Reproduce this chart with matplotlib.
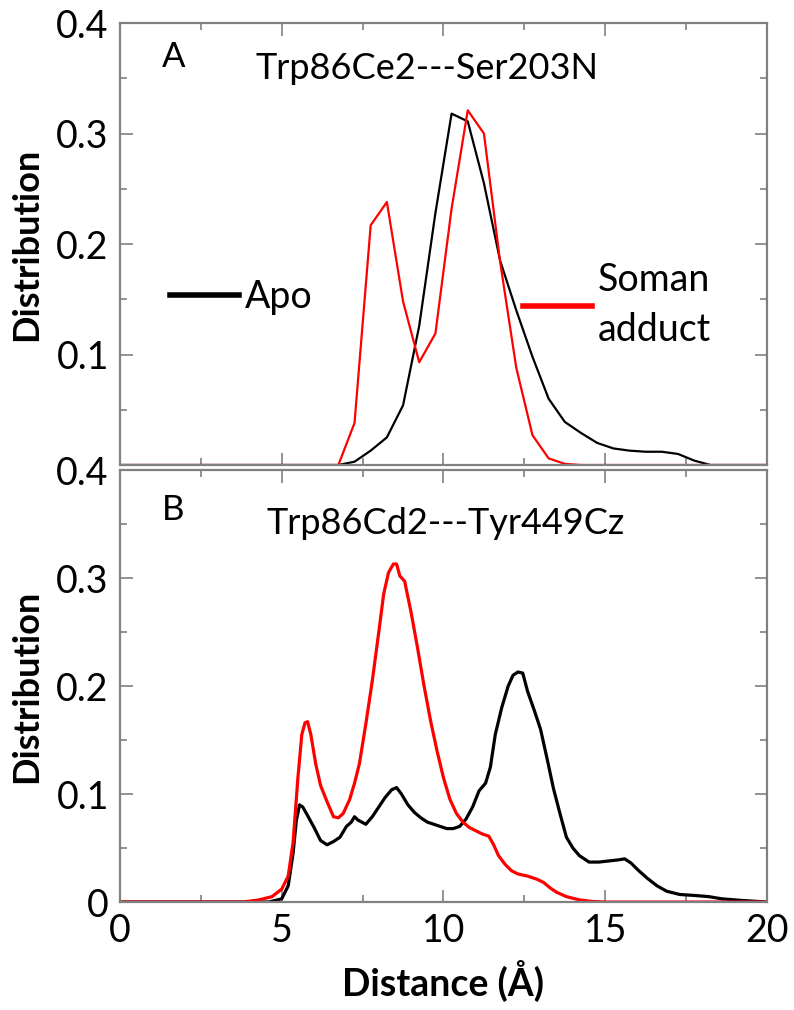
import matplotlib
matplotlib.use("Agg")
import matplotlib.pyplot as plt
from matplotlib.lines import Line2D
from matplotlib.ticker import MultipleLocator

plt.rcParams['font.family'] = ['Lato', 'DejaVu Sans']

# Panel A: Trp86Ce2---Ser203N distance histogram (0.5 A bins)
dist_a = [0, 6.75, 7.25, 7.75, 8.25, 8.75, 9.25, 9.75, 10.25, 10.75, 11.25,
          11.75, 12.25, 12.75, 13.25, 13.75, 14.25, 14.75, 15.25, 15.75,
          16.25, 16.75, 17.25, 17.75, 18.25, 20]
apo_a = [0, 0, 0.003, 0.013, 0.025, 0.054, 0.126, 0.228, 0.318, 0.311, 0.255,
         0.185, 0.140, 0.098, 0.060, 0.039, 0.029, 0.020, 0.015, 0.013,
         0.012, 0.012, 0.010, 0.004, 0, 0]
soman_a = [0, 0, 0.038, 0.217, 0.238, 0.148, 0.093, 0.119, 0.232, 0.321, 0.300,
           0.184, 0.088, 0.027, 0.006, 0.001, 0, 0, 0, 0,
           0, 0, 0, 0, 0, 0]

# Panel B: Trp86Cd2---Tyr449Cz distance distribution
dist_b_apo = [0, 4.6, 5.0, 5.2, 5.35, 5.45, 5.55, 5.65, 5.8, 6.0, 6.2, 6.4,
              6.6, 6.8, 7.0, 7.15, 7.25, 7.35, 7.6, 7.8, 8.0, 8.2, 8.4, 8.55,
              8.7, 8.9, 9.1, 9.3, 9.5, 9.8, 10.1, 10.3, 10.5, 10.7, 10.9,
              11.1, 11.3, 11.45, 11.6, 11.8, 12.0, 12.15, 12.3, 12.45, 12.6,
              12.8, 13.0, 13.2, 13.4, 13.6, 13.8, 14.0, 14.2, 14.5, 14.8,
              15.1, 15.4, 15.6, 15.8, 16.0, 16.3, 16.6, 16.9, 17.3, 17.8,
              18.2, 18.6, 19.2, 20]
apo_b = [0, 0, 0.003, 0.015, 0.045, 0.075, 0.090, 0.088, 0.080, 0.069, 0.057,
         0.053, 0.056, 0.060, 0.070, 0.074, 0.079, 0.076, 0.072, 0.079, 0.088,
         0.097, 0.104, 0.106, 0.100, 0.090, 0.083, 0.078, 0.074, 0.071,
         0.068, 0.068, 0.070, 0.077, 0.088, 0.103, 0.110, 0.125, 0.155,
         0.180, 0.200, 0.210, 0.213, 0.212, 0.195, 0.178, 0.160, 0.133,
         0.105, 0.082, 0.060, 0.050, 0.043, 0.037, 0.037, 0.038, 0.039,
         0.040, 0.036, 0.030, 0.022, 0.015, 0.010, 0.007, 0.006, 0.005,
         0.003, 0.0015, 0]

dist_b_soman = [0, 3.8, 4.3, 4.7, 5.0, 5.2, 5.35, 5.5, 5.62, 5.72, 5.8, 5.9,
                6.05, 6.2, 6.4, 6.6, 6.75, 6.9, 7.1, 7.25, 7.4, 7.6, 7.8, 8.0,
                8.15, 8.3, 8.45, 8.55, 8.65, 8.8, 9.0, 9.2, 9.4, 9.6, 9.8,
                10.0, 10.2, 10.4, 10.6, 10.8, 11.0, 11.2, 11.4, 11.55, 11.7,
                11.9, 12.1, 12.3, 12.6, 12.9, 13.1, 13.3, 13.5, 13.8, 14.2,
                14.6, 15.0, 20]
soman_b = [0, 0, 0.002, 0.005, 0.012, 0.024, 0.055, 0.115, 0.155, 0.166,
           0.167, 0.155, 0.128, 0.108, 0.093, 0.079, 0.078, 0.082, 0.095,
           0.110, 0.128, 0.165, 0.205, 0.250, 0.285, 0.305, 0.313, 0.313,
           0.302, 0.297, 0.268, 0.235, 0.200, 0.168, 0.140, 0.115, 0.095,
           0.082, 0.074, 0.069, 0.066, 0.063, 0.061, 0.053, 0.043, 0.035,
           0.029, 0.026, 0.024, 0.021, 0.018, 0.013, 0.009, 0.005, 0.002,
           0.0005, 0, 0]

y_ticks = [0, 0.1, 0.2, 0.3, 0.4]
y_labels_a = ['', '0.1', '0.2', '0.3', '0.4']
y_labels_b = ['0', '0.1', '0.2', '0.3', '0.4']
x_ticks = [0, 5, 10, 15, 20]

SPINE = '#808080'


def style_axis(ax, ylabels):
    ax.set_xlim(0, 20)
    ax.set_ylim(0, 0.4)
    ax.set_xticks(x_ticks)
    ax.set_yticks(y_ticks)
    ax.set_yticklabels(ylabels)
    ax.xaxis.set_minor_locator(MultipleLocator(2.5))
    ax.yaxis.set_minor_locator(MultipleLocator(0.05))
    ax.tick_params(which='both', direction='in', top=True, right=True,
                   color=SPINE, width=1.2, labelsize=27, pad=8)
    ax.tick_params(which='major', length=9)
    ax.tick_params(which='minor', length=5)
    for sp in ax.spines.values():
        sp.set_color(SPINE)
        sp.set_linewidth(1.6)
    ax.set_ylabel('Distribution', fontsize=26, fontweight='bold')
    ax.yaxis.set_label_coords(-0.119, 0.5)


fig = plt.figure(figsize=(7.94, 10.10), dpi=100)
ax_a = fig.add_axes([0.1511, 0.5396, 0.8149, 0.4376])
ax_b = fig.add_axes([0.1511, 0.1069, 0.8149, 0.4277])

ax_a.plot(dist_a, apo_a, color='black', lw=1.6)
ax_a.plot(dist_a, soman_a, color='#ff0000', lw=1.6)
style_axis(ax_a, y_labels_a)
ax_a.tick_params(labelbottom=False)
ax_a.text(0.065, 0.923, 'A', transform=ax_a.transAxes, fontsize=25,
          ha='left', va='center')
ax_a.text(0.475, 0.898, 'Trp86Ce2---Ser203N', transform=ax_a.transAxes,
          fontsize=26, ha='center', va='center')

apo_key = Line2D([], [], color='black', lw=4)
soman_key = Line2D([], [], color='#ff0000', lw=4)
leg_apo = ax_a.legend([apo_key], ['Apo'], loc='center left',
                      bbox_to_anchor=(0.077, 0.38), frameon=False,
                      fontsize=27, handlelength=1.85, handletextpad=0.15,
                      borderpad=0, borderaxespad=0)
ax_a.add_artist(leg_apo)
leg_soman = ax_a.legend([soman_key], ['Soman\nadduct'], loc='center left',
                        bbox_to_anchor=(0.623, 0.362), frameon=False,
                        fontsize=27, handlelength=1.85, handletextpad=0.15,
                        borderpad=0, borderaxespad=0)
for t in leg_soman.get_texts():
    t.set_linespacing(1.45)

ax_b.plot(dist_b_apo, apo_b, color='black', lw=2.3)
ax_b.plot(dist_b_soman, soman_b, color='#ff0000', lw=2.3)
style_axis(ax_b, y_labels_b)
ax_b.text(0.065, 0.907, 'B', transform=ax_b.transAxes, fontsize=25,
          ha='left', va='center')
ax_b.text(0.504, 0.877, 'Trp86Cd2---Tyr449Cz', transform=ax_b.transAxes,
          fontsize=26, ha='center', va='center')
ax_b.set_xlabel('Distance (Å)', fontsize=27, fontweight='bold')
ax_b.xaxis.set_label_coords(0.5, -0.135)

fig.savefig('out.png', dpi=100)
